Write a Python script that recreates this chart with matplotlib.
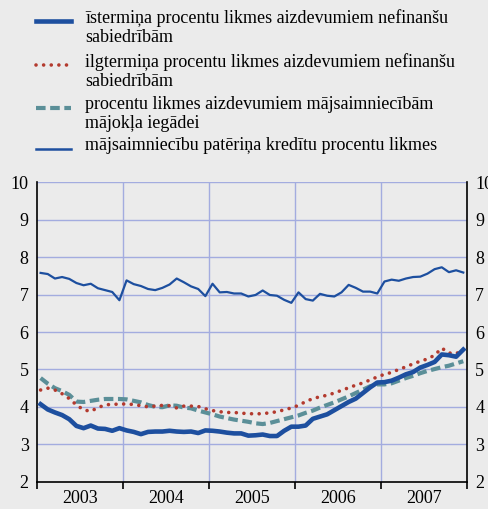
import matplotlib.pyplot as plt
import numpy as np
from matplotlib.lines import Line2D

plt.rcParams['font.family'] = ['Liberation Serif', 'DejaVu Serif']

# Monthly data, Jan 2003 - Dec 2007
short_term = [4.07, 3.93, 3.85, 3.78, 3.67, 3.49, 3.43, 3.50, 3.42, 3.41, 3.36, 3.43,
              3.37, 3.33, 3.27, 3.33, 3.34, 3.34, 3.36, 3.34, 3.33, 3.34, 3.30, 3.37,
              3.36, 3.34, 3.31, 3.29, 3.29, 3.23, 3.24, 3.26, 3.22, 3.22, 3.36, 3.47,
              3.47, 3.50, 3.68, 3.74, 3.80, 3.91, 4.02, 4.13, 4.22, 4.37, 4.52, 4.65,
              4.66, 4.70, 4.78, 4.87, 4.93, 5.05, 5.12, 5.20, 5.40, 5.38, 5.34, 5.53]
long_term = [4.45, 4.50, 4.45, 4.35, 4.22, 4.05, 3.92, 3.88, 3.98, 4.05, 4.07, 4.07,
             4.08, 4.06, 4.03, 4.00, 4.02, 4.04, 4.03, 3.97, 4.02, 4.02, 4.01, 3.95,
             3.90, 3.87, 3.85, 3.85, 3.83, 3.82, 3.81, 3.82, 3.84, 3.87, 3.92, 3.97,
             4.04, 4.14, 4.22, 4.27, 4.31, 4.37, 4.44, 4.51, 4.58, 4.64, 4.72, 4.80,
             4.87, 4.92, 5.00, 5.07, 5.15, 5.22, 5.28, 5.38, 5.57, 5.44, 5.42, 5.53]
housing = [4.77, 4.62, 4.50, 4.42, 4.32, 4.14, 4.13, 4.16, 4.19, 4.21, 4.21, 4.21,
           4.20, 4.16, 4.12, 4.05, 4.00, 3.99, 4.04, 4.03, 3.98, 3.96, 3.90, 3.85,
           3.80, 3.74, 3.70, 3.66, 3.63, 3.60, 3.56, 3.54, 3.57, 3.62, 3.67, 3.72,
           3.77, 3.84, 3.90, 3.98, 4.05, 4.12, 4.20, 4.28, 4.37, 4.46, 4.55, 4.60,
           4.60, 4.63, 4.70, 4.77, 4.83, 4.90, 4.96, 5.01, 5.06, 5.10, 5.16, 5.22]
consumer = [7.58, 7.55, 7.43, 7.47, 7.42, 7.31, 7.25, 7.29, 7.17, 7.12, 7.07, 6.85,
            7.38, 7.28, 7.23, 7.15, 7.12, 7.18, 7.27, 7.43, 7.33, 7.22, 7.15, 6.96,
            7.29, 7.06, 7.07, 7.03, 7.03, 6.95, 6.99, 7.11, 6.99, 6.97, 6.86, 6.78,
            7.06, 6.88, 6.84, 7.02, 6.97, 6.95, 7.06, 7.26, 7.18, 7.08, 7.08, 7.03,
            7.35, 7.40, 7.37, 7.43, 7.47, 7.48, 7.56, 7.68, 7.73, 7.60, 7.65, 7.59]
years = [2003, 2004, 2005, 2006, 2007]
labels = ["īstermiņa procentu likmes aizdevumiem nefinanšu\nsabiedrībām",
          "ilgtermiņa procentu likmes aizdevumiem nefinanšu\nsabiedrībām",
          "procentu likmes aizdevumiem mājsaimniecībām\nmājokļa iegādei",
          "mājsaimniecību patēriņa kredītu procentu likmes"]

blue = "#1d4f9f"
red = "#b33a2e"
teal = "#5b8f98"
bg = "#ebebeb"
grid = "#a3acdf"

x = 2003 + (np.arange(len(consumer)) + 0.5) / 12

figure = plt.figure(figsize=(4.89, 5.09), dpi=100, facecolor=bg)
axes = figure.add_axes([0.0757, 0.0537, 0.879, 0.588], facecolor=bg)

# Series
axes.plot(x, consumer, color=blue, linewidth=1.6, zorder=3)
axes.plot(x, housing, color=teal, linewidth=3, dashes=(2.3, 1.1), zorder=3)
axes.plot(x, long_term, color=red, linewidth=2.6, linestyle=(0, (0.01, 2.1)),
          dash_capstyle="round", zorder=4)
axes.plot(x, short_term, color=blue, linewidth=3.3, zorder=5)

axes.set_xlim(2003, 2008)
axes.set_ylim(2, 10)
axes.set_yticks(range(2, 11))
axes.set_xticks(range(2003, 2009))
axes.set_xticklabels([])
axes.set_xticks([y + 0.5 for y in years], minor=True)
axes.set_xticklabels([str(y) for y in years], minor=True)
axes.tick_params(axis="x", which="major", length=5, width=1.2, direction="out")
axes.tick_params(axis="x", which="minor", length=0, pad=6, labelsize=13)
axes.tick_params(axis="y", length=0, labelsize=13, labelright=True, pad=6)

for v in range(3, 11):
    axes.axhline(v, color=grid, linewidth=1, zorder=1)
for yr in range(2004, 2008):
    axes.axvline(yr, color=grid, linewidth=1, zorder=1)

for side in ["top"]:
    axes.spines[side].set_visible(False)
for side in ["left", "right", "bottom"]:
    axes.spines[side].set_color("black")
    axes.spines[side].set_linewidth(1.2)

# Legend drawn at the top of the figure
W, H = 489, 509
rows = [19, 63, 106, 147]
styles = [dict(color=blue, linewidth=3.3),
          dict(color=red, linewidth=2.6, linestyle=(0, (0.01, 2.1)), dash_capstyle="round"),
          dict(color=teal, linewidth=3, dashes=(2.3, 1.1)),
          dict(color=blue, linewidth=1.8)]
for row, style, text in zip(rows, styles, labels):
    yf = 1 - (row + 2) / H
    figure.add_artist(Line2D([36 / W, 71 / W], [yf, yf], transform=figure.transFigure, **style))
    figure.text(85 / W, 1 - (row - 10) / H, text, fontsize=13, va="top", ha="left",
                linespacing=1.15)

figure.savefig("out.png", dpi=100, facecolor=bg)
